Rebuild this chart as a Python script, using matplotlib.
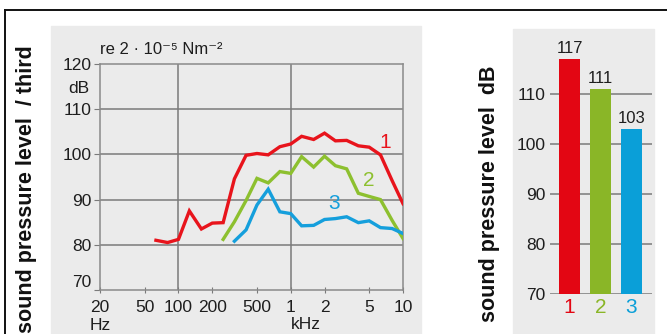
import numpy as np
import matplotlib
matplotlib.use('Agg')
import matplotlib.pyplot as plt
from matplotlib.patches import Rectangle
from matplotlib.lines import Line2D

plt.rcParams['font.family'] = ['Liberation Sans', 'DejaVu Sans']

W, H = 667, 334

# third-octave band centres (Hz)
freq_red = [63, 80, 100, 125, 160, 200, 250, 315, 400, 500, 630, 800, 1000, 1250,
            1600, 2000, 2500, 3150, 4000, 5000, 6300, 8000, 10000]
level_red = [81, 80.5, 81.2, 87.5, 83.5, 84.8, 84.9, 94.6, 99.8, 100.2, 99.9, 101.7,
             102.3, 104, 103.3, 104.7, 103, 103.1, 101.9, 101.6, 99.9, 94.2, 89.1]
freq_green = [250, 315, 400, 500, 630, 800, 1000, 1250, 1600, 2000, 2500, 3150,
              4000, 5000, 6300, 8000, 10000]
level_green = [81.2, 85.1, 89.8, 94.7, 93.7, 96.2, 95.8, 99.5, 97.2, 99.6, 97.5,
               96.8, 91.4, 90.7, 90.0, 85.4, 81.4]
freq_blue = [315, 400, 500, 630, 800, 1000, 1250, 1600, 2000, 2500, 3150, 4000,
             5000, 6300, 8000, 10000]
level_blue = [80.8, 83.3, 88.8, 92.3, 87.3, 86.9, 84.2, 84.3, 85.6, 85.8, 86.2,
              84.9, 85.3, 83.8, 83.6, 82.5]

x_ticks = [20, 50, 100, 200, 500, 1000, 2000, 5000, 10000]
x_tick_labels = ['20', '50', '100', '200', '500', '1', '2', '5', '10']
y_ticks = [70, 80, 90, 100, 110, 120]

bar_names = ['1', '2', '3']
bar_values = [117, 111, 103]

red = '#e8141c'
green = '#8dc02f'
blue = '#159fdc'
bar_colors = ['#e30613', '#8ab627', '#0a9fd8']
grid_c = '#7a7a7a'
panel_c = '#ebebeb'
text_c = '#1e1e1e'


def ax_rect(x0, y0, x1, y1):
    # pixel box (top-left origin) -> figure fraction
    return [x0 / W, 1 - y1 / H, (x1 - x0) / W, (y1 - y0) / H]


fig = plt.figure(figsize=(W / 100, H / 100), dpi=100)

# grey panels and frame
fig.patches.append(Rectangle((51 / W, 0), (421 - 51) / W, 1 - 26 / H,
                             transform=fig.transFigure, color=panel_c, zorder=-5))
fig.patches.append(Rectangle((513 / W, 0), (654 - 513) / W, 1 - 29 / H,
                             transform=fig.transFigure, color=panel_c, zorder=-5))
fig.lines.append(Line2D([5 / W, 1], [1 - 9.5 / H, 1 - 9.5 / H], transform=fig.transFigure,
                        color='#111111', lw=1.4, zorder=-4))
fig.lines.append(Line2D([5 / W, 5 / W], [0, 1 - 9.5 / H], transform=fig.transFigure,
                        color='#111111', lw=1.4, zorder=-4))

# ---- spectrum ----
ax = fig.add_axes(ax_rect(100, 64, 403, 290))
ax.patch.set_alpha(0)
ax.set_xscale('log')
ax.set_xlim(20, 10000)
ax.set_ylim(70, 120)
ax.plot(freq_red, level_red, color=red, lw=2.4, solid_joinstyle='miter', zorder=3)
ax.plot(freq_green, level_green, color=green, lw=2.4, solid_joinstyle='miter', zorder=3)
ax.plot(freq_blue, level_blue, color=blue, lw=2.4, solid_joinstyle='miter', zorder=3)

for xv in [100, 1000]:
    ax.axvline(xv, color=grid_c, lw=1.1, zorder=1)
for yv in [80, 90, 100, 110]:
    ax.axhline(yv, color=grid_c, lw=1.1, zorder=1)
for s in ax.spines.values():
    s.set_color('#8a8a8a')
    s.set_linewidth(1.1)

ax.xaxis.set_major_locator(matplotlib.ticker.FixedLocator(x_ticks))
ax.xaxis.set_major_formatter(matplotlib.ticker.FixedFormatter(x_tick_labels))
ax.xaxis.set_minor_locator(matplotlib.ticker.NullLocator())
ax.set_yticks(y_ticks)
ax.set_yticklabels(['70', '80', '90', '100', '110', '120'])
ax.tick_params(axis='x', direction='inout', length=4, color=grid_c, pad=5,
               labelsize=12.5, labelcolor=text_c)
ax.tick_params(axis='y', direction='out', length=4, color=grid_c, pad=2,
               labelsize=12.5, labelcolor=text_c)
ax.yaxis.get_majorticklabels()[0].set_verticalalignment('bottom')

ax.text(-0.035, 0.89, 'dB', transform=ax.transAxes, ha='right', va='center',
        fontsize=12.5, color=text_c)
ax.text(0, -0.155, 'Hz', transform=ax.transAxes, ha='center', va='center',
        fontsize=12.5, color=text_c)
ax.text(1000, 62.3, 'kHz', ha='left', va='center', fontsize=12.5, color=text_c,
        clip_on=False)
ax.text(0, 1.065, 're 2 · 10⁻⁵ Nm⁻²', transform=ax.transAxes, ha='left', va='center',
        fontsize=12, color=text_c)

ax.text(6900, 102.7, '1', color=red, fontsize=15, ha='center', va='center')
ax.text(4970, 94.3, '2', color=green, fontsize=15, ha='center', va='center')
ax.text(2430, 89.2, '3', color=blue, fontsize=15, ha='center', va='center')

fig.text(27 / W, 1 - 45 / H, 'sound pressure level  / third', rotation=90,
         ha='center', va='top', fontsize=15.5, fontweight='bold', color='#111111')

# ---- overall level bars ----
bx = fig.add_axes(ax_rect(550, 44, 652, 294))
bx.patch.set_alpha(0)
pos = np.arange(len(bar_values))
bx.set_xlim(-0.63, 2.66)
bx.set_ylim(70, 120)
for yv in [70, 80, 90, 100, 110]:
    bx.axhline(yv, color=grid_c, lw=1.1, zorder=1)
bx.bar(pos, [v - 70 for v in bar_values], bottom=70, width=0.68, color=bar_colors, zorder=2)
for p, v in zip(pos, bar_values):
    bx.text(p, v + 0.6, str(v), ha='center', va='bottom', fontsize=12, color=text_c)
for s in bx.spines.values():
    s.set_visible(False)
bx.set_yticks([70, 80, 90, 100, 110])
bx.tick_params(axis='y', length=0, pad=3, labelsize=12.5, labelcolor=text_c)
bx.set_xticks(pos)
bx.set_xticklabels(bar_names)
bx.tick_params(axis='x', length=0, pad=3, labelsize=15)
for lab, c in zip(bx.get_xticklabels(), bar_colors):
    lab.set_color(c)

fig.text(489 / W, 1 - 65 / H, 'sound pressure level  dB', rotation=90,
         ha='center', va='top', fontsize=15.5, fontweight='bold', color='#111111')

fig.savefig('out.png', dpi=100)
